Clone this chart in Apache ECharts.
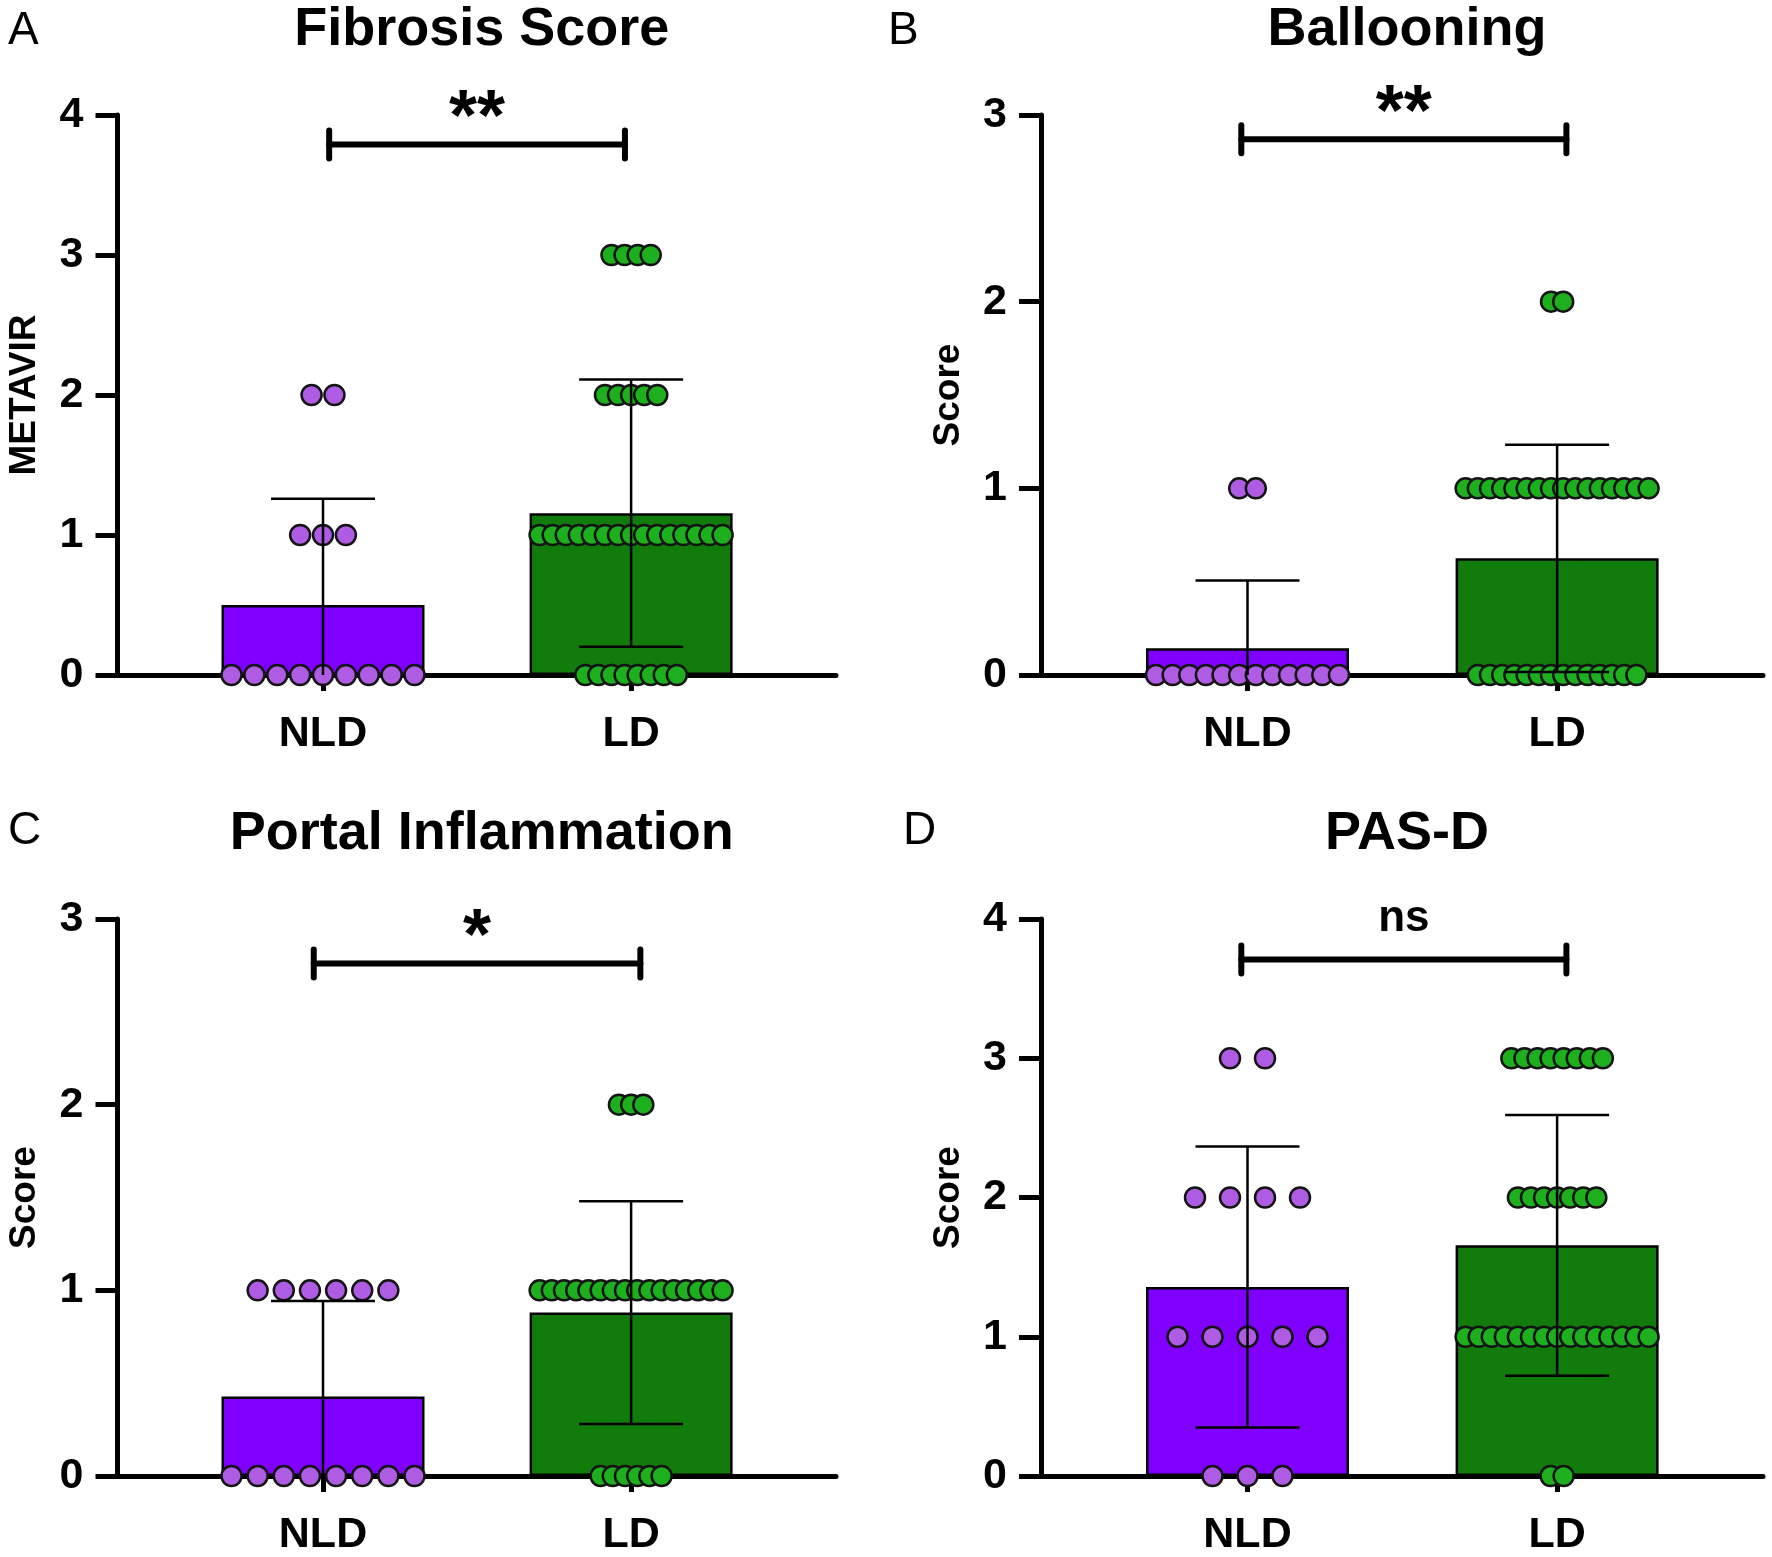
<!DOCTYPE html>
<html><head><meta charset="utf-8">
<script src="https://cdn.jsdelivr.net/npm/echarts@6/dist/echarts.min.js"></script>
<style>html,body{margin:0;padding:0;background:#fff}#c{width:1772px;height:1557px}</style>
</head><body><div id="c"></div>
<script>
// ---------------- data ----------------
const categories = ['NLD', 'LD'];
const panelLetters = ['A', 'B', 'C', 'D'];
const panelTitles = ['Fibrosis Score', 'Ballooning', 'Portal Inflammation', 'PAS-D'];
const yAxisNames = ['METAVIR', 'Score', 'Score', 'Score'];
const yMaxes = [4, 3, 3, 4];

// individual subject scores
const fibrosisNLD = [0,0,0,0,0,0,0,0,0, 1,1,1, 2,2];
const fibrosisLD  = [0,0,0,0,0,0,0,0, 1,1,1,1,1,1,1,1,1,1,1,1,1,1,1, 2,2,2,2,2, 3,3,3,3];
const balloonNLD  = [0,0,0,0,0,0,0,0,0,0,0,0, 1,1];
const balloonLD   = [0,0,0,0,0,0,0,0,0,0,0,0,0,0, 1,1,1,1,1,1,1,1,1,1,1,1,1,1,1,1, 2,2];
const portalNLD   = [0,0,0,0,0,0,0,0, 1,1,1,1,1,1];
const portalLD    = [0,0,0,0,0,0, 1,1,1,1,1,1,1,1,1,1,1,1,1,1,1,1, 2,2,2];
const pasdNLD     = [0,0,0, 1,1,1,1,1, 2,2,2,2, 3,3];
const pasdLD      = [0,0, 1,1,1,1,1,1,1,1,1,1,1,1,1,1,1, 2,2,2,2,2,2,2, 3,3,3,3,3,3,3,3];

// significance annotations
const sigLabels = ['**', '**', '*', 'ns'];
const sigY  = [3.79, 2.87, 2.76, 3.71];
const sigX1 = [1.02, 0.98, 0.97, 0.98];
const sigX2 = [1.98, 2.03, 2.03, 2.03];

const panelData = [
  [fibrosisNLD, fibrosisLD],
  [balloonNLD, balloonLD],
  [portalNLD, portalLD],
  [pasdNLD, pasdLD]
];

// ---------------- style ----------------
const FONT = '"Liberation Sans", Arial, Helvetica, sans-serif';
const barColors = ['#8000FF', '#117C0B'];
const dotColors = ['#AE5CE3', '#1DAF1D'];
const BAR_W = 203, DOT = 20, MAX_SP = 35, CAP_HW = 52;
const grids = [
  {left: 117.5, top: 115, width: 718.5, height: 560},
  {left: 1041, top: 115, width: 722, height: 560},
  {left: 117.5, top: 919, width: 718.5, height: 558},
  {left: 1041, top: 919, width: 722, height: 558}
];
const letterPos = [[3, 3], [883, 3], [3, 803], [898, 803]];
const nameGaps = [74, 74, 74, 74];

function mean(a){ return a.reduce((s,v)=>s+v,0)/a.length; }
function sd(a){ const m = mean(a); return Math.sqrt(a.reduce((s,v)=>s+(v-m)*(v-m),0)/(a.length-1)); }

const option = {
  backgroundColor: '#fff',
  animation: false,
  title: [], grid: [], xAxis: [], yAxis: [], series: []
};

panelData.forEach((groups, p) => {
  const g = grids[p];
  option.grid.push(Object.assign({containLabel: false}, g));
  option.title.push({
    text: panelTitles[p], left: g.left + g.width / 2, textAlign: 'center',
    top: p < 2 ? -2 : 802,
    textStyle: {fontSize: 54, fontWeight: 'bold', color: '#000', fontFamily: FONT}
  });
  option.title.push({
    text: panelLetters[p], left: letterPos[p][0], top: letterPos[p][1],
    textStyle: {fontSize: 46, fontWeight: 'normal', color: '#000', fontFamily: FONT}
  });
  option.xAxis.push({
    gridIndex: p, type: 'value', min: 0.333, max: 2.665,
    axisLine: {show: true, onZero: false, lineStyle: {color: '#000', width: 5}},
    axisTick: {show: true, customValues: [1, 2], length: 16, lineStyle: {color: '#000', width: 5}},
    axisLabel: {show: true, customValues: [1, 2], formatter: v => categories[Math.round(v) - 1] || '',
      fontSize: 43, fontWeight: 'bold', color: '#000', fontFamily: FONT, margin: 38},
    splitLine: {show: false}
  });
  option.yAxis.push({
    gridIndex: p, type: 'value', min: 0, max: yMaxes[p], interval: 1,
    axisLine: {show: true, lineStyle: {color: '#000', width: 5}},
    axisTick: {show: true, length: 22, lineStyle: {color: '#000', width: 5}},
    axisLabel: {fontSize: 43, fontWeight: 'bold', color: '#000', fontFamily: FONT, margin: 34},
    splitLine: {show: false},
    name: yAxisNames[p], nameLocation: 'middle', nameRotate: 90, nameGap: nameGaps[p],
    nameTextStyle: {fontSize: 37, fontWeight: 'bold', color: '#000', fontFamily: FONT}
  });

  // bars (means)
  option.series.push({
    type: 'bar', xAxisIndex: p, yAxisIndex: p, barWidth: BAR_W, z: 2,
    data: groups.map((arr, gi) => ({
      value: [gi + 1, mean(arr)],
      itemStyle: {color: barColors[gi], borderColor: '#000', borderWidth: 2.5}
    }))
  });

  // dots (individual subjects), spread horizontally per value row
  groups.forEach((arr, gi) => {
    const counts = {};
    arr.forEach(v => counts[v] = (counts[v] || 0) + 1);
    const maxN = Math.max(...Object.values(counts));
    const sp = maxN > 1 ? Math.min(MAX_SP, (BAR_W - DOT) / (maxN - 1)) : 0;
    const seen = {};
    const data = arr.map(v => {
      const n = counts[v];
      const i = seen[v] = (seen[v] === undefined ? 0 : seen[v] + 1);
      return {value: [gi + 1, v], symbolOffset: [(i - (n - 1) / 2) * sp, 0]};
    });
    option.series.push({
      type: 'scatter', xAxisIndex: p, yAxisIndex: p, z: 3,
      symbol: 'circle', symbolSize: DOT, clip: false,
      itemStyle: {color: dotColors[gi], borderColor: '#141414', borderWidth: 2.5, opacity: 1},
      data: data
    });
  });

  // error bars (mean ± SD)
  option.series.push({
    type: 'custom', xAxisIndex: p, yAxisIndex: p, z: 4, clip: true,
    data: groups.map((arr, gi) => [gi + 1, mean(arr) - sd(arr), mean(arr) + sd(arr)]),
    renderItem: (params, api) => {
      const x = api.value(0);
      const lo = api.coord([x, api.value(1)]);
      const hi = api.coord([x, api.value(2)]);
      const st = {stroke: '#000', lineWidth: 2.5};
      return {type: 'group', children: [
        {type: 'line', shape: {x1: hi[0], y1: hi[1], x2: lo[0], y2: lo[1]}, style: st},
        {type: 'line', shape: {x1: hi[0] - CAP_HW, y1: hi[1], x2: hi[0] + CAP_HW, y2: hi[1]}, style: st},
        {type: 'line', shape: {x1: lo[0] - CAP_HW, y1: lo[1], x2: lo[0] + CAP_HW, y2: lo[1]}, style: st}
      ]};
    }
  });

  // significance bracket
  option.series.push({
    type: 'custom', xAxisIndex: p, yAxisIndex: p, z: 5, clip: false,
    data: [[sigX1[p], sigX2[p], sigY[p]]],
    renderItem: (params, api) => {
      const a = api.coord([api.value(0), api.value(2)]);
      const b = api.coord([api.value(1), api.value(2)]);
      const st = {stroke: '#000', lineWidth: 6, lineCap: 'round'};
      const lab = sigLabels[p];
      const isStar = lab.indexOf('*') >= 0;
      return {type: 'group', children: [
        {type: 'line', shape: {x1: a[0], y1: a[1], x2: b[0], y2: b[1]}, style: st},
        {type: 'line', shape: {x1: a[0], y1: a[1] - 14, x2: a[0], y2: a[1] + 14}, style: st},
        {type: 'line', shape: {x1: b[0], y1: b[1] - 14, x2: b[0], y2: b[1] + 14}, style: st},
        {type: 'text', x: (a[0] + b[0]) / 2, y: a[1] + (isStar ? 12 : -19),
          style: {text: lab, fill: '#000', align: 'center', verticalAlign: 'bottom',
            font: 'bold ' + (isStar ? 72 : 44) + 'px ' + FONT}}
      ]};
    }
  });
});

const chart = echarts.init(document.getElementById('c'), null, {renderer: 'canvas'});
chart.setOption(option);
</script>
</body></html>
